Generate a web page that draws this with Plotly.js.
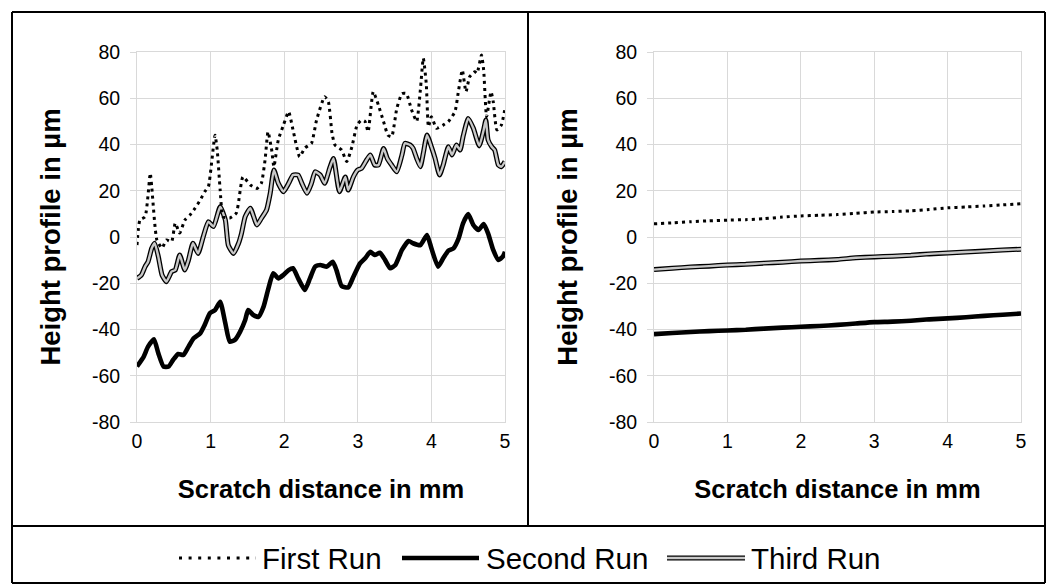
<!DOCTYPE html>
<html>
<head>
<meta charset="utf-8">
<script src="https://cdn.plot.ly/plotly-3.0.1.min.js"></script>
<style>html,body{margin:0;padding:0;background:#fff;}#chart{width:1049px;height:584px;}</style>
</head>
<body>
<div id="chart"></div>
<script>
// ---- Data ----
const seriesNames = ["First Run", "Second Run", "Third Run"];
const xTicks = [0, 1, 2, 3, 4, 5];
const yTicks = [-80, -60, -40, -20, 0, 20, 40, 60, 80];

// Left panel
const firstX = [0.00,0.04,0.11,0.18,0.20,0.27,0.34,0.40,0.47,0.52,0.58,0.65,0.72,0.79,0.86,0.92,0.97,1.06,1.09,1.13,1.17,1.26,1.35,1.44,1.54,1.63,1.69,1.74,1.78,1.83,1.86,1.92,1.99,2.06,2.12,2.21,2.28,2.37,2.44,2.55,2.60,2.65,2.69,2.78,2.85,2.92,2.99,3.05,3.10,3.14,3.21,3.28,3.35,3.41,3.46,3.53,3.60,3.66,3.73,3.80,3.85,3.89,3.93,3.96,4.00,4.07,4.16,4.23,4.32,4.37,4.42,4.47,4.52,4.59,4.62,4.68,4.71,4.75,4.81,4.84,4.89,4.95,5.00];
const firstY = [-3.5,7.3,8.8,27.6,21.8,-1.3,-4.8,-1.3,-2.0,6.0,1.7,7.3,9.5,12.5,16.0,19.6,21.8,44.0,37.6,20.3,8.8,8.2,10.4,26.0,22.5,21.0,23.3,33.3,45.5,37.6,30.4,42.0,48.4,54.2,46.3,34.7,38.5,40.5,50.6,60.7,58.5,44.8,39.8,37.6,32.6,39.0,48.4,50.6,49.9,45.5,62.8,57.0,49.9,44.0,43.4,55.6,62.0,62.0,55.0,50.0,63.6,77.3,66.4,47.7,52.0,47.0,48.4,49.9,54.2,63.6,72.2,62.8,69.3,71.5,70.8,78.7,72.2,52.0,62.8,58.5,46.3,48.4,55.6];

const secondX = [0.00,0.09,0.15,0.23,0.29,0.36,0.43,0.49,0.56,0.63,0.70,0.77,0.86,0.92,0.99,1.06,1.13,1.20,1.26,1.33,1.40,1.47,1.51,1.58,1.65,1.72,1.78,1.85,1.92,1.99,2.06,2.12,2.19,2.28,2.35,2.42,2.49,2.58,2.66,2.71,2.78,2.87,2.94,3.03,3.10,3.17,3.23,3.30,3.37,3.44,3.51,3.60,3.69,3.75,3.85,3.94,4.00,4.09,4.16,4.23,4.30,4.37,4.43,4.50,4.57,4.64,4.71,4.77,4.84,4.91,4.97,5.00];
const secondY = [-56.0,-51.8,-47.4,-44.2,-50.3,-56.0,-56.0,-53.2,-50.6,-51.0,-47.4,-43.8,-41.6,-38.0,-33.0,-31.6,-28.0,-37.3,-45.3,-44.5,-41.0,-35.9,-31.6,-33.7,-34.5,-30.1,-22.9,-15.7,-17.9,-16.4,-14.3,-13.5,-17.9,-22.9,-17.9,-12.8,-12.1,-12.8,-10.7,-14.3,-21.2,-21.8,-17.2,-11.4,-9.2,-6.4,-7.8,-6.8,-9.9,-13.5,-12.1,-5.6,-1.7,-2.7,-3.5,0.9,-4.9,-12.8,-9.2,-5.9,-4.9,-0.6,5.9,9.9,5.2,3.0,5.6,1.6,-5.6,-9.9,-8.5,-6.4];

const thirdX = [0.00,0.06,0.11,0.15,0.20,0.24,0.29,0.34,0.40,0.47,0.52,0.58,0.65,0.70,0.76,0.83,0.90,0.97,1.04,1.13,1.20,1.24,1.31,1.38,1.42,1.47,1.54,1.63,1.69,1.76,1.81,1.86,1.92,1.99,2.06,2.12,2.19,2.24,2.31,2.37,2.42,2.49,2.55,2.62,2.67,2.75,2.83,2.87,2.94,3.00,3.05,3.12,3.17,3.23,3.28,3.35,3.40,3.46,3.53,3.60,3.64,3.71,3.75,3.80,3.85,3.89,3.94,4.00,4.05,4.11,4.16,4.23,4.28,4.34,4.39,4.43,4.50,4.57,4.65,4.71,4.74,4.77,4.82,4.86,4.91,4.95,5.00];
const thirdY = [-17.9,-16.4,-12.8,-10.7,-4.9,-2.7,-8.5,-16.4,-19.3,-15.0,-14.3,-7.8,-14.3,-9.9,-2.7,-7.1,0.1,6.6,4.5,13.1,7.4,-3.5,-7.1,-2.7,1.6,8.8,12.4,5.2,8.1,11.7,18.9,29.0,23.2,19.6,23.2,26.8,26.8,23.2,18.9,23.2,28.2,26.8,23.2,30.0,34.0,19.6,26.0,20.3,26.0,29.0,29.7,33.3,35.5,31.1,31.1,38.3,34.0,31.1,28.2,35.5,40.5,39.8,38.4,34.0,30.4,36.2,44.1,39.0,34.0,26.8,31.1,39.0,35.5,39.8,37.6,43.4,51.3,47.0,39.4,46.3,50.6,42.0,39.0,37.6,31.1,30.4,32.6];

// Right panel
const rightX = [0.00,0.25,0.50,0.75,1.00,1.25,1.50,1.75,2.00,2.25,2.50,2.75,3.00,3.25,3.50,3.75,4.00,4.25,4.50,4.75,5.00];
const rightFirstY  = [5.7,6.1,6.6,7.0,7.3,7.5,7.9,8.6,9.1,9.4,9.7,10.2,10.8,11.0,11.3,11.9,12.6,13.0,13.4,13.9,14.4];
const rightSecondY = [-42.0,-41.5,-41.1,-40.7,-40.4,-40.1,-39.6,-39.2,-38.8,-38.5,-38.0,-37.4,-36.8,-36.6,-36.2,-35.6,-35.2,-34.7,-34.1,-33.6,-33.1];
const rightThirdY  = [-14.1,-13.5,-13.0,-12.6,-12.1,-11.8,-11.3,-10.9,-10.4,-10.1,-9.7,-9.0,-8.6,-8.3,-7.9,-7.3,-6.9,-6.5,-6.1,-5.6,-5.3];

// ---- Styles ----
const W = 1049, H = 584;
const FONT = "Liberation Sans, Arial, sans-serif";
const GRID = "#d9d9d9";
const GRAY_IN = "#c8c8c8";
const dotStyle = {color: "#000", width: 3, dash: "3px,4px", shape: "spline", smoothing: 0.5};
const solidStyle = {color: "#000", width: 4.6, shape: "spline", smoothing: 0.5};
const outerStyle = {color: "#000", width: 5, shape: "spline", smoothing: 0.5};
const innerStyle = {color: GRAY_IN, width: 2.4, shape: "spline", smoothing: 0.5};

function tr(x, y, line, xa, ya, name) {
  return {x: x, y: y, type: "scatter", mode: "lines", line: line, xaxis: xa, yaxis: ya,
          name: name, showlegend: false, hoverinfo: "skip"};
}

const traces = [
  tr(secondX, secondY, solidStyle, "x", "y", seriesNames[1]),
  tr(thirdX, thirdY, outerStyle, "x", "y", seriesNames[2]),
  tr(thirdX, thirdY, innerStyle, "x", "y", seriesNames[2]),
  tr(firstX, firstY, dotStyle, "x", "y", seriesNames[0]),
  tr(rightX, rightSecondY, solidStyle, "x2", "y2", seriesNames[1]),
  tr(rightX, rightThirdY, outerStyle, "x2", "y2", seriesNames[2]),
  tr(rightX, rightThirdY, innerStyle, "x2", "y2", seriesNames[2]),
  tr(rightX, rightFirstY, dotStyle, "x2", "y2", seriesNames[0])
];

const yDom = [1 - 422 / H, 1 - 52 / H];
function xAxis(dom) {
  return {
    domain: dom, range: [0, 5], tickvals: xTicks, ticktext: xTicks.map(String),
    showgrid: true, gridcolor: GRID, gridwidth: 1, zeroline: false,
    showline: true, linecolor: GRID, linewidth: 1, mirror: true,
    ticks: "", ticklabelstandoff: 2,
    tickfont: {family: FONT, size: 19.5, color: "#000"},
    title: {text: "<b>Scratch distance in mm</b>", font: {family: FONT, size: 25.5, color: "#000"}, standoff: 28},
    fixedrange: true
  };
}
function yAxis(anchor) {
  return {
    domain: yDom, range: [-80, 80], tickvals: yTicks, ticktext: yTicks.map(String),
    anchor: anchor,
    showgrid: true, gridcolor: GRID, gridwidth: 1, zeroline: false,
    showline: true, linecolor: GRID, linewidth: 1, mirror: true,
    ticks: "outside", ticklen: 6, tickcolor: GRID, tickwidth: 1, ticklabelstandoff: 6,
    tickfont: {family: FONT, size: 19.5, color: "#000"},
    title: {text: "<b>Height profile in µm</b>", font: {family: FONT, size: 27.5, color: "#000"}, standoff: 23},
    fixedrange: true
  };
}

function px(x) { return x / W; }
function py(y) { return 1 - y / H; }
function line(x0, y0, x1, y1, color, width, dash) {
  return {type: "line", xref: "paper", yref: "paper", x0: px(x0), y0: py(y0), x1: px(x1), y1: py(y1),
          line: {color: color, width: width, dash: dash || "solid"}, layer: "above"};
}

const legY = 558;
const shapes = [
  // frame
  line(12, 12, 1045, 12, "#000", 2),
  line(12, 12, 12, 583, "#000", 2),
  line(1045, 12, 1045, 583, "#000", 2),
  line(12, 583, 1045, 583, "#000", 2),
  line(12, 526, 1045, 526, "#000", 2),
  line(528, 12, 528, 526, "#000", 2),
  // legend symbols
  line(179, legY, 256, legY, "#000", 3, "3px,6.6px"),
  line(402, legY, 479, legY, "#000", 4.6),
  line(667, legY, 745, legY, "#000", 5),
  line(667, legY, 745, legY, GRAY_IN, 2.4)
];

function lab(x, text) {
  return {xref: "paper", yref: "paper", x: px(x), y: py(legY), xanchor: "left", yanchor: "middle",
          text: text, showarrow: false, font: {family: FONT, size: 29.5, color: "#000"}};
}
const annotations = [lab(260, seriesNames[0]), lab(484, seriesNames[1]), lab(749, seriesNames[2])];

const layout = {
  width: W, height: H,
  margin: {l: 0, r: 0, t: 0, b: 0},
  paper_bgcolor: "#fff", plot_bgcolor: "#fff",
  showlegend: false,
  xaxis: Object.assign(xAxis([137 / W, 505 / W]), {anchor: "y"}),
  yaxis: yAxis("x"),
  xaxis2: Object.assign(xAxis([654 / W, 1021 / W]), {anchor: "y2"}),
  yaxis2: yAxis("x2"),
  shapes: shapes,
  annotations: annotations
};

Plotly.newPlot("chart", traces, layout, {staticPlot: true, displayModeBar: false});
</script>
</body>
</html>
